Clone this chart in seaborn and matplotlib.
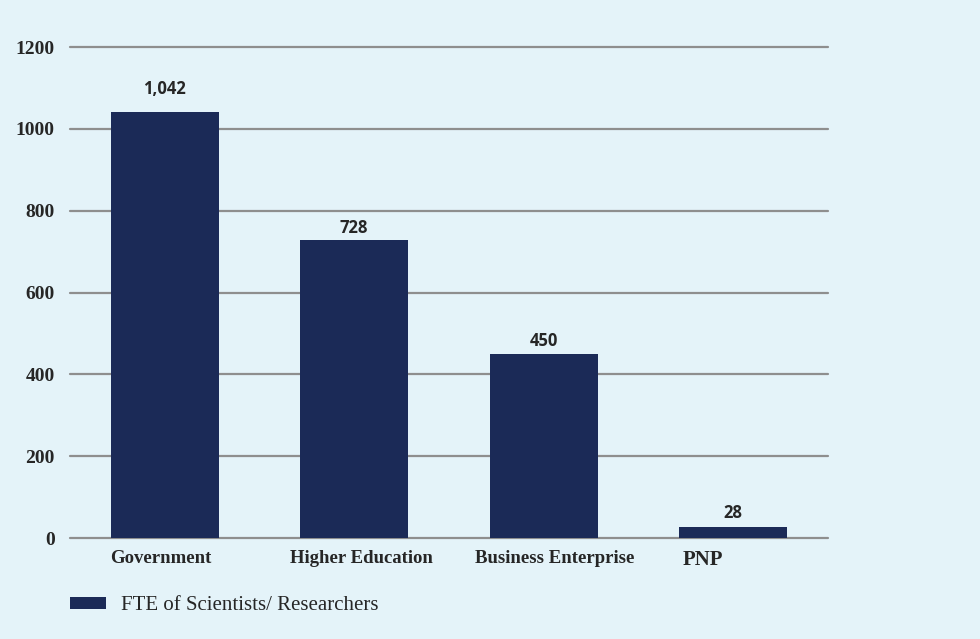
import matplotlib
matplotlib.use('Agg')
import pandas as pd
import matplotlib.pyplot as plt
import seaborn as sns
from matplotlib.patches import Patch

sectors = ['Government', 'Higher Education', 'Business Enterprise', 'PNP']
fte = [1042, 728, 450, 28]
value_labels = ['1,042', '728', '450', '28']
yticks = [0, 200, 400, 600, 800, 1000, 1200]

bg = '#E4F3F9'
navy = '#1B2A57'
grid_col = '#8E8E8E'

df = pd.DataFrame({'Sector': sectors, 'FTE': fte})

sns.set_style('white')
fig = plt.figure(figsize=(9.8, 6.39), dpi=100, facecolor=bg)
ax = fig.add_axes([0.0714, 0.158, 0.7735, 0.7684])
ax.set_facecolor(bg)

for y in yticks:
    ax.axhline(y, color=grid_col, lw=1.6, zorder=0, clip_on=False)

sns.barplot(data=df, x='Sector', y='FTE', color=navy, width=0.57,
            saturation=1, linewidth=0, edgecolor=navy, ax=ax, zorder=2)

ax.set_xlim(-0.5, 3.5)
ax.set_ylim(0, 1200)
ax.set_yticks(yticks)
ax.set_yticklabels([str(t) for t in yticks], fontfamily='Liberation Serif',
                   fontweight='bold', fontsize=14, color='#262626')
ax.tick_params(axis='y', length=0, pad=11)
ax.tick_params(axis='x', length=0, pad=8.5)
# label positions in the source are a little off-centre from the bars
ax.set_xticks([-0.02, 1.04, 2.06, 2.84])
ax.set_xticklabels(sectors, fontfamily='Liberation Serif', fontweight='bold',
                   fontsize=13.5, color='#262626')
ax.get_xticklabels()[-1].set_fontsize(15)
ax.set_xlabel('')
ax.set_ylabel('')
for s in ax.spines.values():
    s.set_visible(False)

pads = [16.5, 9, 9.5, 9.5]
for bar, lab, p in zip(ax.patches, value_labels, pads):
    ax.annotate(lab, (bar.get_x() + bar.get_width() / 2, bar.get_height()),
                xytext=(0, p), textcoords='offset points', ha='center',
                va='center', fontfamily='Open Sans', fontweight='bold',
                fontsize=12, color='#262626')

handle = Patch(facecolor=navy, edgecolor='none')
fig.legend([handle], ['FTE of Scientists/ Researchers'], loc='center left',
           bbox_to_anchor=(70 / 980, 1 - 606 / 639), frameon=False,
           borderpad=0, borderaxespad=0, handlelength=1.73,
           handleheight=0.53, handletextpad=0.72,
           prop={'family': 'Liberation Serif', 'size': 15})

fig.savefig('out.png', dpi=100, facecolor=bg)
